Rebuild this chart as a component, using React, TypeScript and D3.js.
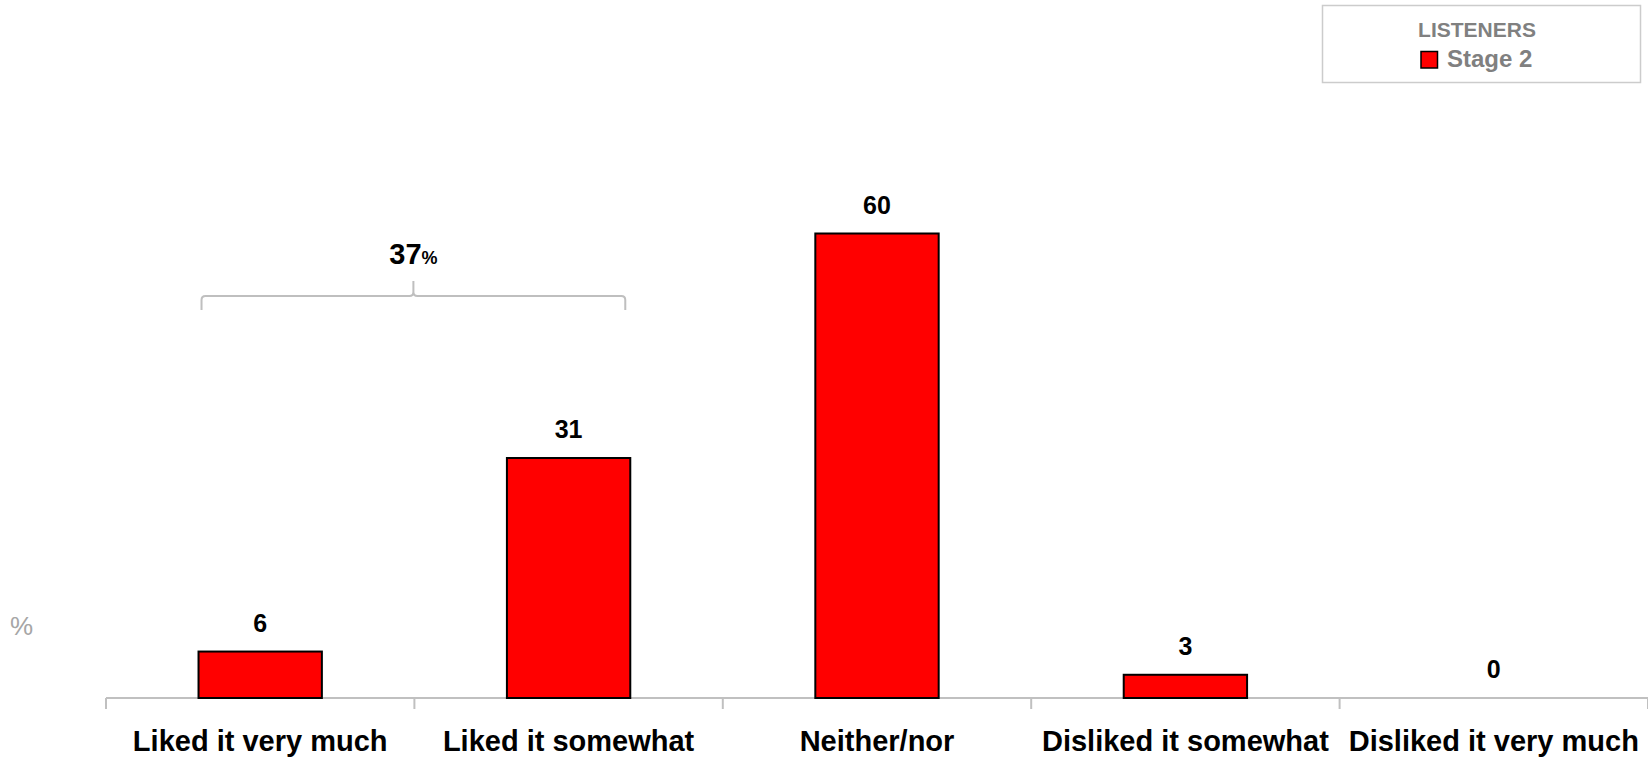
import React from "react";
import * as d3 from "d3";

const categories = ["Liked it very much", "Liked it somewhat", "Neither/nor", "Disliked it somewhat", "Disliked it very much"];
const values = [6, 31, 60, 3, 0];
const seriesName = "Stage 2";
const legendTitle = "LISTENERS";
const bracketValue = 37;
const bracketCats = [0, 1];

const W = 1648;
const H = 759;
const FONT = "Liberation Sans, Arial, sans-serif";

export default function App() {
  const x = d3.scaleBand<string>().domain(categories).range([106, 1648]).padding(0);
  const y = d3.scaleLinear().domain([0, 60]).range([698, 233.5]);
  const bw = x.bandwidth();
  const barW = bw * 0.4;
  const ticks = d3.range(categories.length + 1).map((i) => 106 + i * bw);

  const bx0 = (x(categories[bracketCats[0]]) as number) + bw * 0.3 + 3;
  const bx1 = (x(categories[bracketCats[1]]) as number) + bw * 0.7 - 5;
  const bxm = (bx0 + bx1) / 2;
  const by = 296;
  const r = 4;
  const bracePath = `M${bx0},310 L${bx0},${by + r} Q${bx0},${by} ${bx0 + r},${by} L${bxm - r},${by} Q${bxm},${by} ${bxm},${by - r} L${bxm},281 M${bxm},${by - r} Q${bxm},${by} ${bxm + r},${by} L${bx1 - r},${by} Q${bx1},${by} ${bx1},${by + r} L${bx1},310`;

  return (
    <svg width={W} height={H} style={{ position: "absolute", left: 0, top: 0, fontFamily: FONT }}>
      <rect x={0} y={0} width={W} height={H} fill="#ffffff" />
      {/* legend */}
      <rect x={1322.5} y={5.5} width={318} height={77} fill="#fff" stroke="#cccccc" strokeWidth={1.5} />
      <text x={1477} y={37} textAnchor="middle" fontSize={21} fontWeight="bold" fill="#808080">{legendTitle}</text>
      <rect x={1421} y={51.5} width={16.5} height={16.5} fill="#ff0000" stroke="#000" strokeWidth={1.5} />
      <text x={1447} y={66.5} fontSize={24} fontWeight="bold" fill="#808080">{seriesName}</text>

      {/* % axis label */}
      <text x={10} y={635} fontSize={26} fill="#a6a6a6">%</text>

      {/* axis */}
      <line x1={106} x2={1648} y1={698} y2={698} stroke="#c0c0c0" strokeWidth={2} />
      {ticks.map((t, i) => (
        <line key={i} x1={t} x2={t} y1={698} y2={709} stroke="#c0c0c0" strokeWidth={2} />
      ))}

      {/* bars */}
      {categories.map((c, i) => {
        const cx = (x(c) as number) + bw / 2;
        const top = y(values[i]);
        return (
          <g key={c}>
            {values[i] > 0 && (
              <rect x={cx - barW / 2} y={top} width={barW} height={y(0) - top} fill="#ff0000" stroke="#000" strokeWidth={2} />
            )}
            <text x={cx} y={top - 20} textAnchor="middle" fontSize={25} fontWeight="bold" fill="#000">{values[i]}</text>
            <text x={cx} y={751} textAnchor="middle" fontSize={29} fontWeight="bold" fill="#000">{c}</text>
          </g>
        );
      })}

      {/* bracket */}
      <path d={bracePath} fill="none" stroke="#bfbfbf" strokeWidth={2} />
      <text x={bxm} y={264} textAnchor="middle" fontWeight="bold" fill="#000">
        <tspan fontSize={29}>{bracketValue}</tspan>
        <tspan fontSize={18}>%</tspan>
      </text>
    </svg>
  );
}
